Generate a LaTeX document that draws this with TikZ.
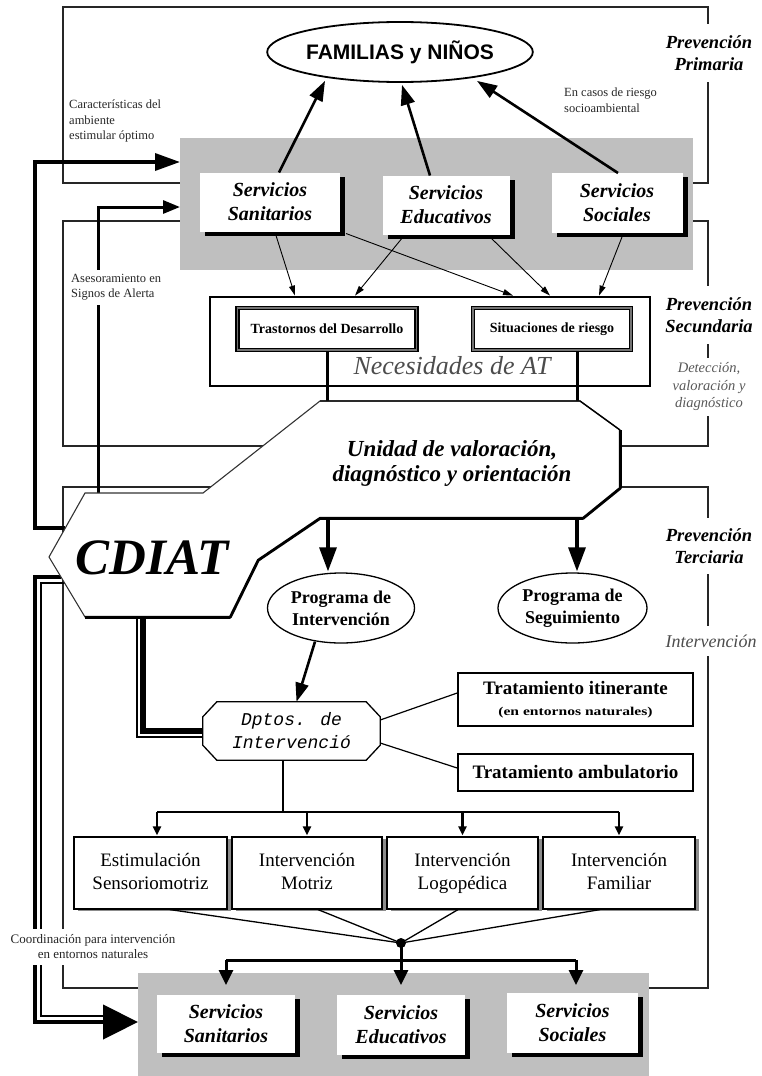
\documentclass[tikz,border=0pt]{standalone}
\usepackage{fontspec}
\setmainfont{Liberation Serif}
\newfontfamily\sansfam{Liberation Sans}
\newfontfamily\monofam{Liberation Mono}
\usetikzlibrary{arrows.meta,calc,shadows,shapes.geometric}
\newcommand{\myfs}[2]{\fontsize{#1}{#2}\selectfont}
\tikzset{
 frame/.style={draw=black!85, line width=1.2pt},
 serv/.style={rectangle, fill=white, inner sep=0pt, outer sep=0pt, align=center, font=\myfs{20}{24}\bfseries\itshape, drop shadow={shadow xshift=5pt, shadow yshift=-4pt, fill=black, opacity=1}},
 sidelab/.style={fill=white, align=center, inner xsep=1pt, font=\myfs{18.5}{22}\bfseries\itshape},
 smalllab/.style={align=left, inner sep=1pt, font=\myfs{12.5}{15.5}, text=black!85},
 thinarrow/.style={line width=0.9pt, -{Triangle[length=10pt,width=6pt]}},
 fatarrow/.style={line width=2.6pt, -{Triangle[length=20pt,width=14pt]}},
 loopline/.style={line width=3.5pt},
 dbox/.style={draw=black, line width=1.8pt, double=black!55, double distance=1.2pt, fill=white, inner sep=0pt, font=\myfs{14}{16}\bfseries},
 ell/.style={draw, ellipse, line width=1.3pt, inner sep=0pt, align=center, font=\myfs{18}{22}\bfseries},
 tbox/.style={draw, line width=1.6pt, fill=white, inner sep=0pt, align=center, font=\myfs{19}{21}\bfseries},
 bbox/.style={draw, line width=1.2pt, fill=white, inner sep=0pt, align=center, font=\myfs{19}{23}, drop shadow={shadow xshift=4pt, shadow yshift=-2pt, fill=black!45, opacity=1}},
 tline/.style={line width=2.4pt},
 smallarrow/.style={line width=2.4pt, -{Triangle[length=9pt,width=8pt]}},
 fanarrow/.style={line width=3pt, -{Triangle[length=15pt,width=14pt]}},
 midarrow/.style={line width=3.2pt, -{Triangle[length=24pt,width=17pt]}},
 grayfill/.style={fill=black!25, inner sep=0pt, outer sep=0pt, anchor=north west}
}
\begin{document}
\begin{tikzpicture}[x=1pt,y=-1pt]
\useasboundingbox (0,0) rectangle (762,1076);

% prevention frames
\draw[frame] (180,183) -- (63,183) -- (63,7) -- (708,7) -- (708,183) -- (693,183);
\draw[frame] (180,221) -- (63,221) -- (63,446) -- (265,446);
\draw[frame] (620,446) -- (708,446) -- (708,221) -- (693,221);
\draw[frame] (215,487) -- (63,487) -- (63,988) -- (138,988);
\draw[frame] (620,487) -- (708,487) -- (708,988) -- (649,988);

% gray areas
\node[grayfill, minimum width=513pt, minimum height=132pt] (grayT) at (180,138) {};
\node[grayfill, minimum width=511pt, minimum height=103pt] (grayB) at (138,973) {};

% CDIAT / Unidad outline points
\coordinate (c1) at (85,493);
\coordinate (c2) at (203,493);
\coordinate (u1) at (320,401);
\coordinate (u2) at (580,401);
\coordinate (u3) at (620,430);
\coordinate (u4) at (620,488);
\coordinate (u5) at (583,518);
\coordinate (u6) at (320,518);
\coordinate (c3) at (258,560);
\coordinate (c4) at (230,617);
\coordinate (c5) at (85,617);
\coordinate (c6) at (49,557);

% left connectors
\draw[loopline, -{Triangle[length=25pt,width=17pt]}] ($(c1)!0.55!(c6)$) -| (35,300) |- ($(grayT.north west)+(0,24)$);
\draw[line width=3pt, -{Triangle[length=17pt,width=13pt]}] ($(c1)+(13,0)$) |- ($(grayT.north west)+(0,69)$);
\draw[line width=4.5pt, -{Triangle[length=35pt,width=34pt]}] ($(c6)!0.333!(c5)$) -| (35,800) |- ($(grayB.north west)+(0,49)$);
\draw[line width=1.2pt] ($(c6)!0.433!(c5)$) -| (41,800) |- (110,1016);

% side labels
\node[sidelab, inner ysep=11pt] (lp) at (709,53) {Prevención\\Primaria};
\node[sidelab, inner ysep=11pt] (ls) at (709,315) {Prevención\\Secundaria};
\node[fill=white, align=center, inner xsep=1pt, inner ysep=5pt, font=\myfs{14.5}{17.5}\itshape, text=black!65] (ld) at (709,387) {Detección,\\valoración y\\diagnóstico};
\node[sidelab, inner ysep=10pt] (lt) at (709,546) {Prevención\\Terciaria};
\node[fill=white, inner xsep=1pt, inner ysep=9pt, font=\myfs{18}{22}\itshape, text=black!70] (li) at (711,641) {Intervención};

\node[smalllab, anchor=north west] (lcar) at (68,99) {Características del\\ambiente\\estimular óptimo};
\node[smalllab, anchor=north west, fill=white, inner ysep=4pt] (lase) at (70,270) {Asesoramiento en\\Signos de Alerta};
\node[smalllab, anchor=north west] (lries) at (563,87) {En casos de riesgo\\socioambiental};
\node[smalllab, align=center, fill=white, inner ysep=6pt, font=\myfs{13}{15}] (lcoo) at (93,947) {Coordinación para intervención\\en entornos naturales};

% top services
\node[serv, minimum width=140pt, minimum height=59pt] (sanT) at (270,202) {Servicios\\Sanitarios};
\node[serv, minimum width=127pt, minimum height=59pt] (eduT) at (446,205) {Servicios\\Educativos};
\node[serv, minimum width=131pt, minimum height=60pt] (socT) at (617,203) {Servicios\\Sociales};

% families
\node[draw, ellipse, line width=1.8pt, minimum width=265pt, minimum height=60pt, inner sep=0pt, font=\sansfam\bfseries\myfs{21}{24}] (fam) at (400,52) {FAMILIAS y NIÑOS};
\draw[fatarrow] ($(sanT.north)+(9,0)$) -- ($(fam.south)+(-75,-2)$);
\draw[fatarrow] ($(eduT.north)+(-16,0)$) -- ($(fam.south)+(2,2)$);
\draw[fatarrow] ($(socT.north)+(1,0)$) -- ($(fam.south)+(77,-2)$);

% necesidades
\node[draw, line width=2.8pt, minimum width=440pt, minimum height=89pt, inner sep=0pt] (need) at (430,341.5) {};
\node[font=\myfs{26}{30}\itshape, text=black!70] (needt) at (452,366) {Necesidades de AT};
\node[dbox, minimum width=179pt, minimum height=42pt] (tras) at (327,329) {Trastornos del Desarrollo};
\node[dbox, minimum width=158pt, minimum height=42pt] (sit) at (552,329) {Situaciones de riesgo};

\draw[thinarrow] ($(sanT.south)+(6,4)$) -- ($(need.north)+(-135,0)$);
\draw[thinarrow] ($(sanT.south east)+(6,2)$) -- ($(need.north)+(83,0)$);
\draw[thinarrow] ($(eduT.south)+(-43,2.5)$) -- ($(need.north)+(-75,0)$);
\draw[thinarrow] ($(eduT.south)+(44,2.5)$) -- ($(need.north)+(120,0)$);
\draw[thinarrow] ($(socT.south)+(5,4)$) -- ($(need.north)+(169,0)$);

% connectors need -> unidad
\draw[line width=3pt] (tras.south) -- (tras.south |- u1);
\draw[line width=3pt] ($(sit.south)+(25,0)$) -- ($(sit.south |- u1)+(25,0)$);

% CDIAT + Unidad shape
\draw[line width=3.5pt, line join=round, xshift=2pt, yshift=-2pt] (u3) -- (u4) -- (u5) -- (u6) -- (c3) -- (c4) -- (c5);
\filldraw[fill=white, draw=black!80, line width=1.1pt, line join=miter] (c1) -- (c2) -- (u1) -- (u2) -- (u3) -- (u4) -- (u5) -- (u6) -- (c3) -- (c4) -- (c5) -- (c6) -- cycle;
\draw[line width=2.2pt] (u3) -- (u4) -- (u5) -- (u6) -- (c3) -- (c4) -- (c5);
\draw[line width=1.4pt] (u1) -- (u2) -- (u3);
\node[font=\myfs{23}{25}\bfseries\itshape, align=center] (unid) at (452,463) {Unidad de valoración,\\diagnóstico y orientación};
\node[font=\myfs{51}{51}\bfseries\itshape, inner sep=0pt] (cdiat) at (152,558) {CDIAT};

% programs
\node[ell, minimum width=147pt, minimum height=70pt] (pint) at (341,608) {Programa de\\Intervención};
\node[ell, minimum width=149pt, minimum height=70pt] (pseg) at (572.5,608) {Programa de\\Seguimiento};
\draw[midarrow] ($(u6)+(8,0)$) -- ($(pint.north)+(-13,-1)$);
\draw[midarrow] ($(u5)+(-6,0)$) -- ($(pseg.north)+(4.5,-1)$);

% departments
\node[minimum width=177pt, minimum height=58pt, inner sep=0pt, align=center, font=\monofam\itshape\myfs{18}{23}] (dptos) at (291.5,731) {Dptos. de\\Intervenció};
\draw[line width=1.3pt] ($(dptos.north west)+(14,0)$) -- ($(dptos.north east)+(-14,0)$) -- ($(dptos.north east)+(0,15)$) -- ($(dptos.south east)+(0,-15)$) -- ($(dptos.south east)+(-14,0)$) -- ($(dptos.south west)+(14,0)$) -- ($(dptos.south west)+(0,-15)$) -- ($(dptos.north west)+(0,15)$) -- cycle;
\draw[line width=2.6pt, -{Triangle[length=19pt,width=13pt]}] ($(pint.south)+(-26,-2)$) -- ($(dptos.north)+(5,0)$);

% CDIAT -> departments (double line)
\draw[line width=6pt] ($(c5)+(58,0)$) |- (dptos.west);
\draw[line width=1.3pt] ($(c5)+(52,0)$) |- ($(dptos.west)+(0,6)$);

% treatments
\node[tbox, minimum width=235pt, minimum height=53pt] (titin) at (575.5,699.5) {Tratamiento itinerante\\{\myfs{12}{14}\scalebox{1.3}[1]{(en entornos naturales)}}};
\node[tbox, minimum width=235pt, minimum height=37pt] (tamb) at (575.5,772.5) {Tratamiento ambulatorio};
\draw[line width=1.2pt] ($(dptos.east)+(0,-11)$) -- ($(titin.west)+(0,-6.5)$);
\draw[line width=1.2pt] ($(dptos.east)+(0,12)$) -- ($(tamb.west)+(0,-4.5)$);

% intervention boxes
\node[bbox, minimum width=153pt, minimum height=72pt] (b1) at (150.5,873) {Estimulación\\Sensoriomotriz\vphantom{gp}};
\node[bbox, minimum width=150pt, minimum height=72pt] (b2) at (307,873) {Intervención\\Motriz\vphantom{gp}};
\node[bbox, minimum width=151pt, minimum height=72pt] (b3) at (462.5,873) {Intervención\\Logopédica};
\node[bbox, minimum width=152pt, minimum height=72pt] (b4) at (619,873) {Intervención\\Familiar\vphantom{gp}};

\coordinate (dist) at (283,812);
\draw[tline] ($(dptos.south)+(-8.5,0)$) -- (dist);
\draw[tline] ($(b1.north |- dist)+(6.5,0)$) -- (b4.north |- dist);
\draw[smallarrow] ($(b1.north |- dist)+(6.5,0)$) -- ($(b1.north)+(6.5,-1)$);
\draw[smallarrow] (b2.north |- dist) -- ($(b2.north)+(0,-1)$);
\draw[smallarrow] (b3.north |- dist) -- ($(b3.north)+(0,-1)$);
\draw[smallarrow] (b4.north |- dist) -- ($(b4.north)+(0,-1)$);

% bottom services
\node[serv, minimum width=138pt, minimum height=58pt] (sanB) at (226,1024) {Servicios\\Sanitarios};
\node[serv, minimum width=128pt, minimum height=60pt] (eduB) at (401,1025) {Servicios\\Educativos};
\node[serv, minimum width=131pt, minimum height=60pt] (socB) at (572.5,1023) {Servicios\\Sociales};

% fan to bottom services
\node[circle, fill=black, inner sep=0pt, minimum size=10pt] (dot) at (401,943) {};
\draw[line width=1.3pt] ($(b1.south)+(19.5,0)$) -- (dot.center);
\draw[line width=1.3pt] ($(b2.south)+(11,0)$) -- (dot.center);
\draw[line width=1.3pt] ($(b3.south)+(-4.5,0)$) -- (dot.center);
\draw[line width=1.3pt] ($(b4.south)+(-19,0)$) -- (dot.center);
\coordinate (hy) at (401,960);
\draw[line width=3pt] (hy -| sanB.north) -- ($(hy -| socB.north)+(3.5,0)$);
\draw[fanarrow] (dot.center) -- ($(eduB.north)+(0,-10)$);
\draw[fanarrow] (hy -| sanB.north) -- ($(sanB.north)+(0,-10)$);
\draw[fanarrow] ($(hy -| socB.north)+(3.5,0)$) -- ($(socB.north)+(3.5,-8)$);
\end{tikzpicture}
\end{document}
